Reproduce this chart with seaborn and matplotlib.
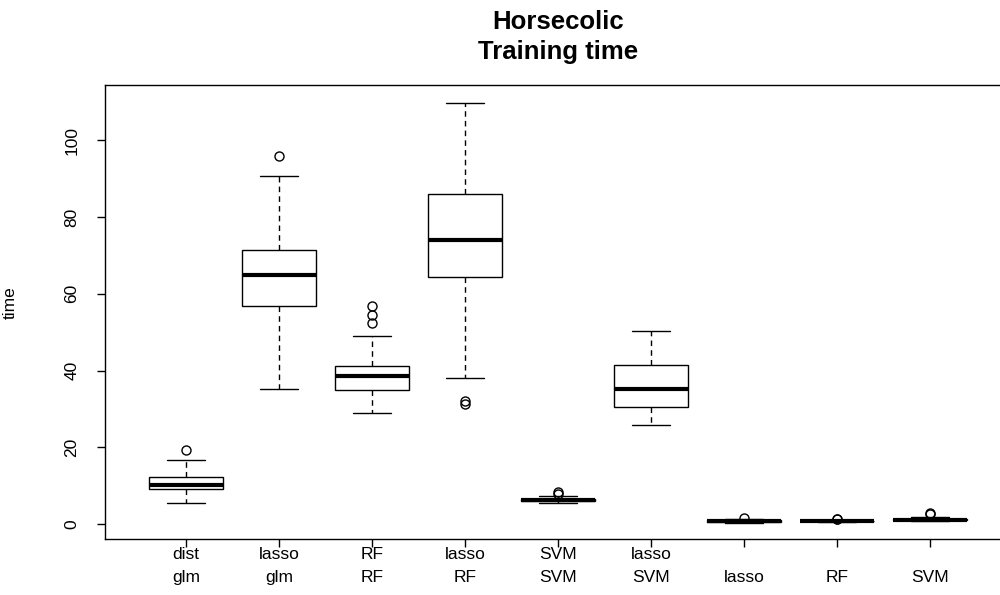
import numpy as np
import pandas as pd
import matplotlib
matplotlib.use("Agg")
import matplotlib.pyplot as plt
import seaborn as sns

# ---- data (five-number summaries + outliers) ----
label_top = ["dist", "lasso", "RF", "lasso", "SVM", "lasso", "", "", ""]
label_bottom = ["glm", "glm", "RF", "RF", "SVM", "SVM", "lasso", "RF", "SVM"]
whisk_low = [5.6, 35.3, 28.9, 38.0, 5.4, 25.9, 0.40, 0.60, 0.70]
q1 = [9.2, 56.8, 35.0, 64.4, 5.9, 30.6, 0.65, 0.72, 0.95]
median = [10.2, 64.9, 38.7, 74.0, 6.15, 35.3, 0.85, 0.80, 1.05]
q3 = [12.3, 71.3, 41.1, 85.9, 6.5, 41.4, 1.00, 0.88, 1.30]
whisk_high = [16.6, 90.6, 48.9, 109.8, 7.3, 50.3, 1.30, 1.05, 1.75]
outliers_low = [[], [], [], [31.4, 32.0], [], [], [], [], []]
outliers_high = [[19.4], [95.8], [52.4, 54.5, 56.7], [], [7.9, 8.3], [], [1.7], [1.2, 1.25], [2.6, 2.8]]

title = "Horsecolic\nTraining time"
y_label = "time"


def summary_sample(lo, a, m, b, hi, olo, ohi, k=4):
    """Sample of 4k+1 values whose quartiles equal the read summary."""
    vals = list(olo) + [lo] + [a] * (k - len(olo)) + [m] * k + [b] * k \
        + [b] * (k - len(ohi) - 1) + [hi] + list(ohi)
    return vals


categories = [f"{t}\n{b}" for t, b in zip(label_top, label_bottom)]
rows = []
for i, cat in enumerate(categories):
    for v in summary_sample(whisk_low[i], q1[i], median[i], q3[i], whisk_high[i],
                            outliers_low[i], outliers_high[i]):
        rows.append((cat, v))
df = pd.DataFrame(rows, columns=["method", "time"])

# ---- styling ----
sns.set_style("white")
plt.rcParams["font.family"] = ["Liberation Sans", "DejaVu Sans"]
plt.rcParams["text.color"] = "black"
plt.rcParams["axes.labelcolor"] = "black"

fig = plt.figure(figsize=(10, 5.95), dpi=100)
ax = fig.add_axes([0.105, 0.0941, 0.906, 0.763])

sns.boxplot(
    data=df, x="method", y="time", order=categories, ax=ax,
    color="white", saturation=1, linecolor="black", linewidth=1.0, width=0.8,
    whis=1.5,
    whiskerprops=dict(linestyle=(0, (4, 3)), linewidth=1.0, color="black"),
    capprops=dict(linewidth=1.0, color="black"),
    medianprops=dict(linewidth=3.0, color="black"),
    boxprops=dict(linewidth=1.0, edgecolor="black", facecolor="white"),
    flierprops=dict(marker="o", markerfacecolor="none", markeredgecolor="black",
                    markersize=6.5, markeredgewidth=1.0),
)

ax.set_xlim(-0.87, 8.87)
ax.set_ylim(-3.9, 114.4)
ax.set_yticks([0, 20, 40, 60, 80, 100])
ax.set_xlabel("")
ax.set_ylabel(y_label, fontsize=12.5, color="black")
ax.yaxis.set_label_coords(-0.096, 0.52)

for side in ["left", "right", "top", "bottom"]:
    ax.spines[side].set_visible(True)
    ax.spines[side].set_color("black")
    ax.spines[side].set_linewidth(1.0)

ax.tick_params(axis="both", which="both", direction="out", length=5.5, width=1.0,
               color="black", labelcolor="black", left=True, bottom=True)
ax.tick_params(axis="y", labelsize=12.5, pad=13)
ax.tick_params(axis="x", labelsize=12.5, pad=0)
for lab in ax.get_yticklabels():
    lab.set_rotation(90)
    lab.set_va("center")
for lab in ax.get_xticklabels():
    lab.set_linespacing(1.7)

fig.text(0.558, 0.938, title, ha="center", va="center", fontsize=18.5,
         fontweight="bold", color="black", linespacing=1.3)

fig.savefig("out.png", dpi=100, facecolor="white")
